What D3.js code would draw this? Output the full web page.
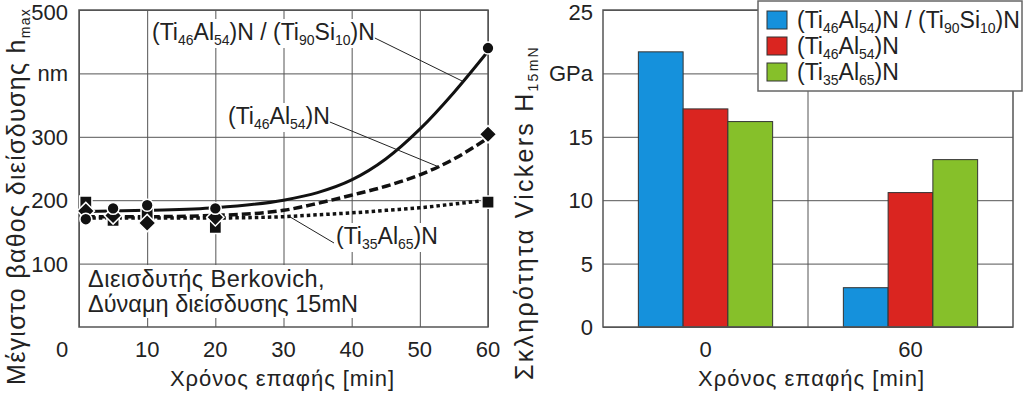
<!DOCTYPE html>
<html><head><meta charset="utf-8">
<script src="https://cdn.jsdelivr.net/npm/d3@7"></script>
<style>
body{margin:0;background:#fff}
svg text{font-family:"Liberation Sans",Arial,sans-serif;fill:#222}
</style></head><body>
<svg id="chart" width="1023" height="393"></svg>
<script>
// left panel: max penetration depth vs contact time
var timeLeft = [1,5,10,20,60];
var depthTiAlSi = [170,187,192,187,440];
var depthTiAl54 = [183,176,164,173,304];
var depthTiAl35 = [197,168,178,157,197];
// fitted trend curves
var trendTime = [1,10,20,30,35,40,45,50,55,60];
var trendTiAlSi = [182,184,188,200,212,232,265,312,370,435];
var trendTiAl54 = [174,174,176,184,195,208,222,240,265,298];
var trendTiAl35 = [172,172,172,174,177,180,184,188,194,200];
var leftXTicks = [0,10,20,30,40,50,60];
var leftYTicks = [100,200,300,400,500];
var leftYLabels = ["100","200","300","nm","500"];
// where the label leaders touch the curves (time, depth)
var leaderEnds = [[56.2,388],[52.9,252],[30.9,174]];

// right panel: Vickers hardness
var timeRight = ["0","60"];
var seriesNames = ["TiAlSi","TiAl54","TiAl35"];
var hardTiAlSi = [21.7,3.1];
var hardTiAl54 = [17.2,10.6];
var hardTiAl35 = [16.2,13.2];
var rightYTicks = [0,5,10,15,20,25];
var rightYLabels = ["0","5","10","15","GPa","25"];
var colours = ["#1591dc","#da2520","#86c02a"];

var nameTiAlSi = [["(Ti"],["46",1],["Al"],["54",1],[")N / (Ti"],["90",1],["Si"],["10",1],[")N"]];
var nameTiAl54 = [["(Ti"],["46",1],["Al"],["54",1],[")N"]];
var nameTiAl35 = [["(Ti"],["35",1],["Al"],["65",1],[")N"]];

var svg = d3.select("#chart");
var fs = 22, labFs = 23, subFs = 14, gridCol = "#555";

// write a formula with subscripts into a text element
function formula(t, parts){
  var down = false;
  parts.forEach(function(p){
    var s = t.append("tspan").text(p[0]);
    if (p[1] && !down){ s.attr("dy",5).attr("font-size",subFs); down = true; }
    else if (p[1]) { s.attr("font-size",subFs); }
    else if (down){ s.attr("dy",-5); down = false; }
  });
  return t;
}
// spread letters so a title covers the same length as in the figure
function fit(t, target){
  var w = t.node().getComputedTextLength();
  var n = t.text().length;
  t.attr("letter-spacing", ((target-w)/n).toFixed(2));
  return t;
}
function whiteBehind(g, node, pad){
  var b = node.getBBox();
  g.insert("rect", function(){ return node; })
    .attr("x",b.x-pad).attr("y",b.y-pad+2).attr("width",b.width+2*pad).attr("height",b.height+2*pad-4)
    .attr("fill","#fff");
}

// ---------- left chart ----------
var x = d3.scaleLinear().domain([0,60]).range([79,488]);
var y = d3.scaleLinear().domain([0,500]).range([327,10]);
var L = svg.append("g");

L.append("g").attr("transform","translate(0,327)")
  .call(d3.axisBottom(x).tickValues(leftXTicks).tickSize(-317).tickFormat(""))
  .call(g=>g.select(".domain").remove())
  .call(g=>g.selectAll("line").attr("stroke",gridCol));
L.append("g").attr("transform","translate(79,0)")
  .call(d3.axisLeft(y).tickValues(leftYTicks).tickSize(-409).tickFormat(""))
  .call(g=>g.select(".domain").remove())
  .call(g=>g.selectAll("line").attr("stroke",gridCol));

// annotation box
var note = L.append("g");
var nt = note.append("text").attr("font-size",23.5);
fit(nt.append("tspan").attr("x",88).attr("y",287).text("Διεισδυτής Berkovich,"), 237);
fit(nt.append("tspan").attr("x",88).attr("y",312).text("Δύναμη διείσδυσης 15mN"), 270);
whiteBehind(note, nt.node(), 3);

L.append("rect").attr("x",79).attr("y",10).attr("width",409).attr("height",317)
  .attr("fill","none").attr("stroke",gridCol).attr("stroke-width",1.5);

// tick labels (the top one sits a little lower so it stays inside the page)
L.selectAll(".ylab").data(leftYTicks).enter().append("text")
  .attr("x",68).attr("y",d=>y(d)+(d===500 ? 10 : 8)).attr("text-anchor","end").attr("font-size",fs)
  .text((d,i)=>leftYLabels[i]);
L.selectAll(".xlab").data(leftXTicks).enter().append("text")
  .attr("x",d=>d===0 ? x(d)-17 : x(d)).attr("y",357).attr("text-anchor","middle").attr("font-size",fs)
  .text(d=>d);
fit(L.append("text").attr("x",170).attr("y",386).attr("font-size",fs)
  .text("Χρόνος επαφής [min]"), 225);
var yt = L.append("text").attr("transform","translate(25,385) rotate(-90)").attr("font-size",25);
yt.append("tspan").text("Μέγιστο βαθος διείσδυσης h");
yt.append("tspan").attr("font-size",14).attr("dy",5).text("max");
fit(yt, 377);

// trend curves
var line = d3.line().x((d,i)=>x(trendTime[i])).y(d=>y(d)).curve(d3.curveMonotoneX);
var trends = [[trendTiAlSi,null,3],[trendTiAl54,"9,4",3.5],[trendTiAl35,"3.5,3",3.5]];
trends.forEach(function(t){
  L.append("path").attr("d",line(t[0])).attr("fill","none").attr("stroke","#111")
    .attr("stroke-width",t[2]).attr("stroke-dasharray",t[1]);
});

// markers
var markerSets = [[depthTiAl35,d3.symbolSquare,150,0],[depthTiAl54,d3.symbolSquare,150,45],[depthTiAlSi,d3.symbolCircle,110,0]];
markerSets.forEach(function(m){
  L.append("g").selectAll("path").data(m[0]).enter().append("path")
    .attr("transform",(d,i)=>"translate("+x(timeLeft[i])+","+y(d)+") rotate("+m[3]+")")
    .attr("d",d3.symbol().type(m[1]).size(m[2]))
    .attr("fill","#111").attr("stroke","#fff").attr("stroke-width",1.5);
});

// curve labels with leaders
var labs = [[nameTiAlSi,152,40,"end"],[nameTiAl54,228,124,"end"],[nameTiAl35,336,244,"start"]];
labs.forEach(function(l,i){
  var g = L.append("g");
  var t = formula(g.append("text").attr("x",l[1]).attr("y",l[2]).attr("font-size",labFs), l[0]);
  whiteBehind(g, t.node(), 2);
  var b = t.node().getBBox();
  var sx = l[3]==="end" ? b.x+b.width : b.x-2;
  var sy = l[3]==="end" ? l[2]-2 : l[2]-1;
  L.append("line").attr("x1",sx).attr("y1",sy)
    .attr("x2",x(leaderEnds[i][0])).attr("y2",y(leaderEnds[i][1]))
    .attr("stroke","#222").attr("stroke-width",1);
});

// ---------- right chart ----------
var y2 = d3.scaleLinear().domain([0,25]).range([327,10]);
var xb = d3.scaleBand().domain(timeRight).range([603,1013]);
var groupW = xb.bandwidth()*0.655;
var xs = d3.scaleBand().domain(seriesNames).range([0,groupW]);
var R = svg.append("g");

R.append("g").attr("transform","translate(603,0)")
  .call(d3.axisLeft(y2).tickValues(rightYTicks).tickSize(-410).tickFormat(""))
  .call(g=>g.select(".domain").remove())
  .call(g=>g.selectAll("line").attr("stroke",gridCol));
R.append("line").attr("x1",xb.range()[0]+xb.step()).attr("x2",xb.range()[0]+xb.step())
  .attr("y1",10).attr("y2",327).attr("stroke",gridCol);

var series = [hardTiAlSi,hardTiAl54,hardTiAl35];
series.forEach(function(s,k){
  R.append("g").selectAll("rect").data(s).enter().append("rect")
    .attr("x",(d,i)=>xb(timeRight[i])+(xb.bandwidth()-groupW)/2+xs(seriesNames[k]))
    .attr("y",d=>y2(d)).attr("width",xs.bandwidth()).attr("height",d=>y2(0)-y2(d))
    .attr("fill",colours[k]).attr("stroke","#333").attr("stroke-width",1);
});

R.append("rect").attr("x",603).attr("y",10).attr("width",410).attr("height",317)
  .attr("fill","none").attr("stroke",gridCol).attr("stroke-width",1.5);

R.selectAll(".ylab").data(rightYTicks).enter().append("text")
  .attr("x",593).attr("y",d=>y2(d)+(d===25 ? 10 : 8)).attr("text-anchor","end").attr("font-size",fs)
  .text((d,i)=>rightYLabels[i]);
R.selectAll(".xlab").data(timeRight).enter().append("text")
  .attr("x",d=>xb(d)+xb.bandwidth()/2).attr("y",357).attr("text-anchor","middle").attr("font-size",fs)
  .text(d=>d);
fit(R.append("text").attr("x",698).attr("y",386).attr("font-size",fs)
  .text("Χρόνος επαφής [min]"), 227);
var rt = R.append("text").attr("transform","translate(533,380) rotate(-90)").attr("font-size",25);
rt.append("tspan").text("Σκληρότητα Vickers H");
rt.append("tspan").attr("font-size",14).attr("dy",5).text("15mN");
fit(rt, 335);

// legend
var leg = R.append("g");
leg.append("rect").attr("x",758).attr("y",1).attr("width",264).attr("height",90)
  .attr("fill","#fff").attr("stroke","#666").attr("stroke-width",1.5);
var legNames = [nameTiAlSi,nameTiAl54,nameTiAl35];
legNames.forEach(function(n,i){
  leg.append("rect").attr("x",767).attr("y",11+i*26).attr("width",20).attr("height",18)
    .attr("fill",colours[i]).attr("stroke","#333");
  formula(leg.append("text").attr("x",797).attr("y",28+i*26).attr("font-size",labFs), n);
});
</script>
</body></html>
